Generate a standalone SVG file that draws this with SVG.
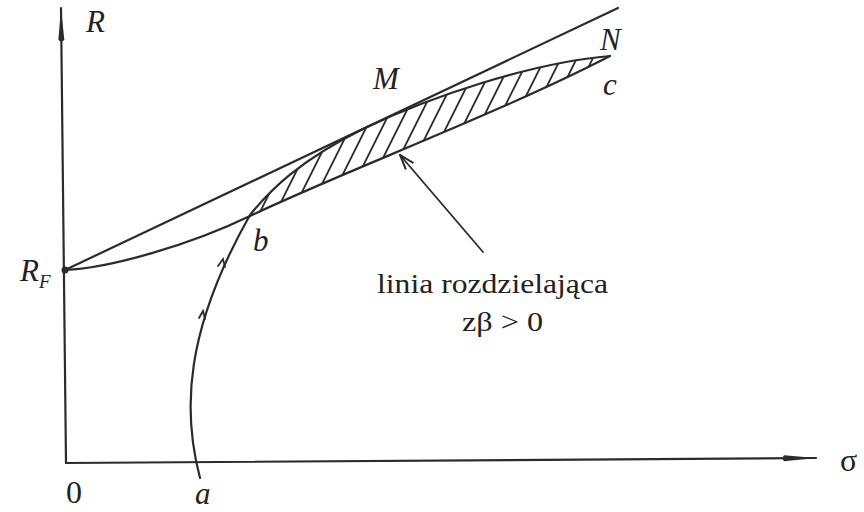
<svg xmlns="http://www.w3.org/2000/svg" width="864" height="512" viewBox="0 0 864 512">
<style>
.ln{fill:none;stroke:#2b2b2b;stroke-width:2.2;stroke-linecap:round}
.thin{fill:none;stroke:#2b2b2b;stroke-width:1.8;stroke-linecap:round}
text{font-family:'Liberation Serif','Times New Roman',Times,serif;fill:#222}
.lab{font-style:italic;font-size:31px}
.txt{font-size:28px}
.big{font-size:32px}
</style>
<defs>
<marker id="ah" markerWidth="36" markerHeight="10" refX="34" refY="5" orient="auto" markerUnits="userSpaceOnUse">
<path d="M0,5 L2,2 L34,5 L2,8 Z" fill="#2b2b2b"/>
</marker>
<marker id="pa" markerWidth="16" markerHeight="12" refX="15" refY="6" orient="auto" markerUnits="userSpaceOnUse">
<path d="M0,1 L15,6 L0,11" fill="none" stroke="#2b2b2b" stroke-width="2"/>
</marker>
<clipPath id="hc">
<path d="M250,215 C270,190 300,160 365,128 C430,97 530,63 610,56 C500,113 340,173 250,215 Z"/>
</clipPath>
</defs>
<g id="axes">
<line class="ln" x1="66" y1="463" x2="61" y2="8" marker-end="url(#ah)" stroke-width="3"/>
<line class="ln" x1="66" y1="463" x2="816" y2="458" marker-end="url(#ah)" stroke-width="3"/>
</g>
<g id="connectors">
<path id="line-RF-top" class="ln" d="M65,270 L618,8"/>
<path id="curve-RF-b-c" class="ln" d="M65,270 C110,268 190,245 250,216 C340,173 500,113 610,56"/>
<path id="curve-a-b-M-N" class="ln" d="M200,478 C182,410 185,330 250,215 C270,190 300,160 365,128 C430,97 530,63 610,56"/>
<path class="thin" d="M218,266 l5,-7 l2,8 M199,318 l4,-7 l2,8"/>
<line class="thin" x1="483" y1="252" x2="400" y2="155" marker-end="url(#pa)"/>
</g>
<g id="hatch" clip-path="url(#hc)">
<path class="thin" d="M150,240 l110,-220 M166,240 l110,-220 M182,240 l110,-220 M198,240 l110,-220 M214,240 l110,-220 M230,240 l110,-220 M246,240 l110,-220 M262,240 l110,-220 M278,240 l110,-220 M294,240 l110,-220 M310,240 l110,-220 M326,240 l110,-220 M342,240 l110,-220 M358,240 l110,-220 M374,240 l110,-220 M390,240 l110,-220 M406,240 l110,-220 M422,240 l110,-220 M438,240 l110,-220 M454,240 l110,-220 M470,240 l110,-220 M486,240 l110,-220 M502,240 l110,-220 M518,240 l110,-220 M534,240 l110,-220 M550,240 l110,-220"/>
</g>
<circle id="RF-point" cx="65" cy="270" r="3.5" fill="#2b2b2b"/>
<g id="labels">
<text class="lab" x="86" y="32">R</text>
<text class="lab" x="20" y="281">R<tspan font-size="19" dy="7">F</tspan></text>
<text class="lab" x="373" y="89">M</text>
<text class="lab" x="600" y="50">N</text>
<text class="lab" x="603" y="95">c</text>
<text class="lab" x="253" y="251">b</text>
<text class="lab" x="195" y="504">a</text>
<text class="big" x="66" y="503">0</text>
<text class="big" x="840" y="471">σ</text>
<text class="txt" x="377" y="293" textLength="231" lengthAdjust="spacingAndGlyphs">linia rozdzielająca</text>
<text class="txt" x="462" y="331" textLength="81" lengthAdjust="spacingAndGlyphs">zβ &gt; 0</text>
</g>
</svg>
